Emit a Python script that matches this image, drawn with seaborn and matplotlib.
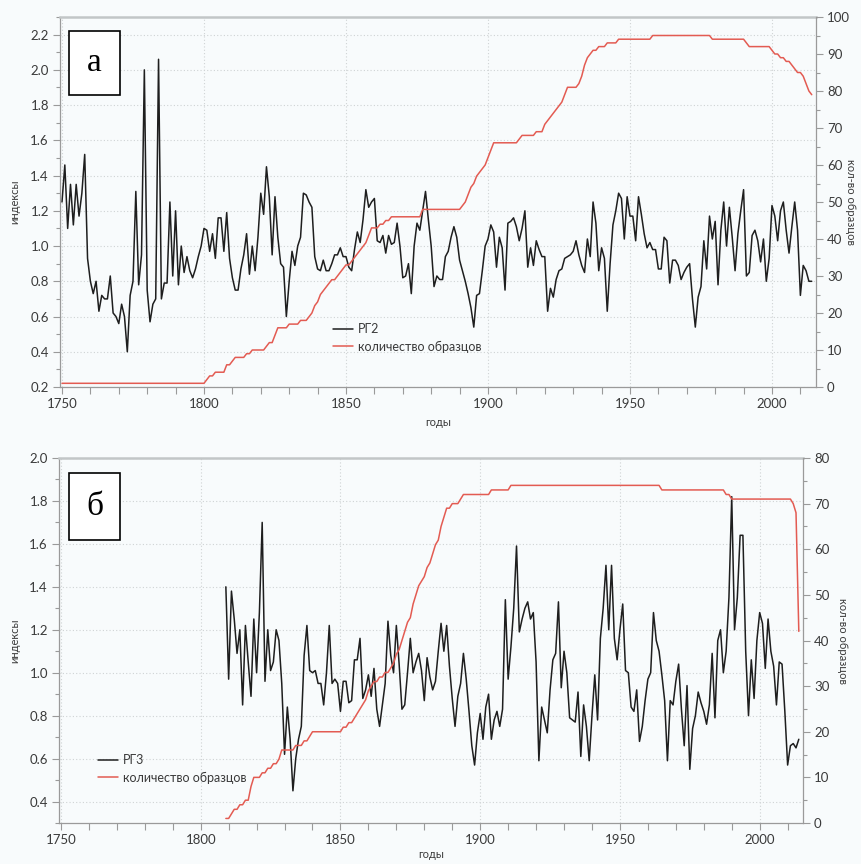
import numpy as np
import pandas as pd
import matplotlib
matplotlib.use("Agg")
import matplotlib.pyplot as plt
import seaborn as sns
from matplotlib.ticker import MultipleLocator, FixedLocator
from matplotlib.patches import Rectangle

# ---------------- data ----------------
years_a = list(range(1750, 2015))
index_a = [
    1.25, 1.46, 1.10, 1.35, 1.12, 1.35, 1.17, 1.30, 1.52, 0.93,
    0.80, 0.73, 0.80, 0.63, 0.72, 0.70, 0.70, 0.83, 0.62, 0.60,
    0.56, 0.67, 0.60, 0.40, 0.72, 0.80, 1.31, 0.78, 0.95, 2.00,
    0.75, 0.57, 0.67, 0.70, 2.06, 0.70, 0.79, 0.79, 1.25, 0.83,
    1.20, 0.78, 1.00, 0.85, 0.94, 0.86, 0.82, 0.87, 0.94, 1.00,
    1.10, 1.09, 0.97, 1.07, 0.93, 1.16, 1.16, 0.97, 1.19, 0.93,
    0.82, 0.75, 0.75, 0.87, 0.95, 1.07, 0.84, 1.00, 0.86, 1.05,
    1.30, 1.18, 1.45, 1.28, 0.95, 1.28, 1.05, 0.90, 0.88, 0.60,
    0.80, 0.97, 0.89, 1.00, 1.05, 1.30, 1.29, 1.25, 1.22, 0.94,
    0.87, 0.86, 0.92, 0.86, 0.86, 0.90, 0.95, 0.95, 0.99, 0.94,
    0.94, 0.88, 0.86, 0.98, 1.08, 1.02, 1.15, 1.32, 1.22, 1.25,
    1.27, 1.03, 1.02, 1.06, 0.96, 1.06, 1.01, 1.02, 1.13, 1.00,
    0.82, 0.83, 0.90, 0.73, 1.00, 1.13, 1.09, 1.20, 1.31, 1.15,
    1.00, 0.77, 0.83, 0.81, 0.81, 0.94, 0.97, 1.05, 1.11, 1.05,
    0.92, 0.86, 0.80, 0.73, 0.65, 0.54, 0.72, 0.73, 0.86, 1.00,
    1.04, 1.12, 1.08, 0.88, 1.05, 0.99, 0.75, 1.13, 1.14, 1.16,
    1.11, 1.03, 1.10, 1.20, 0.88, 0.99, 0.89, 1.03, 0.98, 0.94,
    0.94, 0.63, 0.76, 0.71, 0.81, 0.86, 0.87, 0.93, 0.94, 0.95,
    0.97, 1.03, 0.95, 0.89, 0.85, 1.04, 0.94, 1.25, 1.13, 0.86,
    0.99, 0.93, 0.63, 0.90, 1.12, 1.20, 1.30, 1.27, 1.04, 1.28,
    1.17, 1.17, 1.03, 1.28, 1.18, 1.07, 0.99, 1.02, 0.98, 0.98,
    0.87, 0.87, 1.05, 1.03, 0.79, 0.92, 0.92, 0.89, 0.81, 0.85,
    0.88, 0.90, 0.70, 0.54, 0.71, 0.77, 1.03, 0.87, 1.17, 1.04,
    1.14, 0.78, 1.09, 1.25, 1.00, 1.22, 1.05, 0.86, 1.07, 1.20,
    1.32, 0.83, 0.85, 1.06, 1.09, 1.03, 0.91, 1.04, 0.80, 0.93,
    1.23, 1.17, 1.03, 1.20, 1.25, 1.09, 0.96, 1.11, 1.25, 1.09,
    0.72, 0.89, 0.86, 0.80, 0.80,
]
count_a = (
    [1] * 50 +
    [1, 2, 3, 3, 4, 4, 4, 4, 6, 6] +
    [7, 8, 8, 8, 8, 9, 9, 10, 10, 10] +
    [10, 10, 11, 12, 12, 14, 16, 16, 16, 16] +
    [17, 17, 17, 17, 18, 18, 18, 19, 20, 22] +
    [23, 25, 26, 27, 28, 29, 29, 30, 31, 32] +
    [33, 33, 34, 35, 36, 37, 38, 39, 41, 43] +
    [43, 43, 44, 44, 45, 45, 46, 46, 46, 46] +
    [46, 46, 46, 46, 46, 46, 46, 48, 48, 48] +
    [48] * 10 +
    [48, 49, 50, 52, 54, 55, 57, 58, 59, 60] +
    [62, 64, 66, 66, 66, 66, 66, 66, 66, 66] +
    [66, 67, 68, 68, 68, 68, 68, 69, 69, 69] +
    [71, 72, 73, 74, 75, 76, 77, 79, 81, 81] +
    [81, 81, 82, 84, 87, 89, 90, 91, 91, 92] +
    [92, 92, 93, 93, 93, 93, 94, 94, 94, 94] +
    [94, 94, 94, 94, 94, 94, 94, 94, 95, 95] +
    [95] * 10 +
    [95, 95, 95, 95, 95, 95, 95, 95, 95, 94] +
    [94] * 10 +
    [94, 93, 92, 92, 92, 92, 92, 92, 92, 92] +
    [91, 90, 90, 89, 89, 88, 88, 87, 86, 85] +
    [85, 84, 82, 80, 79]
)

years_b = list(range(1809, 2015))
index_b = [
    1.40,
    0.97, 1.38, 1.25, 1.09, 1.20, 0.85, 1.22, 1.05, 0.89, 1.25,
    1.00, 1.28, 1.70, 0.96, 1.20, 1.01, 1.05, 1.20, 1.15, 0.95,
    0.62, 0.84, 0.69, 0.45, 0.60, 0.69, 0.75, 1.08, 1.22, 1.01,
    1.00, 1.01, 0.95, 0.95, 0.85, 1.00, 1.22, 0.95, 0.97, 0.95,
    0.82, 0.96, 0.96, 0.86, 0.87, 1.06, 1.06, 1.16, 0.88, 0.92,
    0.99, 0.89, 1.02, 0.83, 0.75, 0.85, 0.95, 1.24, 1.08, 1.00,
    1.22, 1.04, 0.83, 0.85, 1.00, 1.16, 1.00, 1.05, 1.09, 1.01,
    0.87, 1.07, 0.98, 0.92, 0.96, 1.10, 1.23, 1.10, 1.22, 1.03,
    0.88, 0.75, 0.89, 0.95, 1.09, 0.97, 0.82, 0.66, 0.57, 0.72,
    0.81, 0.69, 0.84, 0.90, 0.69, 0.78, 0.82, 0.75, 0.83, 1.34,
    0.97, 1.12, 1.30, 1.59, 1.19, 1.25, 1.30, 1.33, 1.25, 1.28,
    1.05, 0.59, 0.84, 0.78, 0.72, 0.92, 1.06, 1.09, 1.33, 0.93,
    1.10, 1.00, 0.79, 0.78, 0.77, 0.91, 0.61, 0.85, 0.75, 0.59,
    0.80, 0.99, 0.78, 1.16, 1.30, 1.50, 1.20, 1.50, 1.16, 1.06,
    1.20, 1.32, 1.01, 1.00, 0.84, 0.82, 0.92, 0.68, 0.75, 0.87,
    0.97, 1.00, 1.28, 1.15, 1.10, 0.99, 0.87, 0.59, 0.87, 0.85,
    0.96, 1.04, 0.83, 0.66, 0.94, 0.55, 0.74, 0.80, 0.91, 0.86,
    0.82, 0.76, 0.85, 1.09, 0.79, 1.15, 1.20, 1.00, 1.10, 1.35,
    1.82, 1.20, 1.35, 1.64, 1.64, 1.10, 0.80, 1.06, 0.88, 1.15,
    1.28, 1.23, 1.02, 1.25, 1.10, 1.03, 0.85, 1.05, 1.04, 0.82,
    0.57, 0.66, 0.67, 0.65, 0.69,
]
count_b = (
    [1] +
    [1, 2, 3, 3, 4, 4, 5, 5, 8, 10] +
    [10, 10, 11, 11, 12, 12, 13, 13, 14, 16] +
    [16, 16, 16, 16, 17, 17, 17, 18, 18, 19] +
    [20] * 10 +
    [20, 21, 21, 22, 22, 23, 24, 25, 26, 27] +
    [29, 30, 31, 31, 32, 32, 33, 33, 34, 35] +
    [37, 38, 40, 42, 44, 45, 48, 50, 52, 53] +
    [54, 56, 57, 59, 61, 62, 65, 67, 69, 69] +
    [70, 70, 70, 71, 72, 72, 72, 72, 72, 72] +
    [72, 72, 72, 72, 73, 73, 73, 73, 73, 73] +
    [73, 74, 74, 74, 74, 74, 74, 74, 74, 74] +
    [74] * 40 +
    [74, 74, 74, 74, 74, 73, 73, 73, 73, 73] +
    [73] * 10 +
    [73, 73, 73, 73, 73, 73, 73, 73, 72, 72] +
    [71] * 10 +
    [71] * 10 +
    [71, 71, 70, 68, 42]
)

label_a = "РГ2"
label_b = "РГ3"
label_count = "количество образцов"
xlabel = "годы"
ylabel_left = "индексы"
ylabel_right = "кол-во образцов"
panel_letters = ["а", "б"]

# ---------------- style ----------------
sns.set_theme(style="ticks")
plt.rcParams['font.family'] = ['Lato', 'DejaVu Sans']

BG = '#f8fbfc'
BLACK = '#1e1e1e'
RED = '#e35b52'
SPINE = '#9a9a9a'
TXT = '#3a3a3a'

W, H = 862, 864
fig = plt.figure(figsize=(W / 100, H / 100), dpi=100)
fig.patch.set_facecolor(BG)


def frac_rect(l, t, r, b):
    return [l / W, 1 - b / H, (r - l) / W, (b - t) / H]


def make_panel(rect, years, idx, cnt, lab, ylim_l, ylim_r, ymaj_r, ymin_r,
               yticks_l, leg_xy, letter_rect, letter, rlab_x, xlab_y):
    ax = fig.add_axes(frac_rect(*rect))
    ax.set_facecolor(BG)
    df = pd.DataFrame({"year": years, "idx": idx, "cnt": cnt})
    sns.lineplot(data=df, x="year", y="idx", ax=ax, color=BLACK, lw=1.1,
                 label=lab, legend=False)
    axr = ax.twinx()
    sns.lineplot(data=df, x="year", y="cnt", ax=axr, color=RED, lw=1.1,
                 label=label_count, legend=False)

    ax.set_xlim(1749.3, 2015.5)
    ax.set_ylim(*ylim_l)
    axr.set_ylim(*ylim_r)

    ax.xaxis.set_major_locator(MultipleLocator(50))
    ax.xaxis.set_minor_locator(MultipleLocator(10))
    ax.yaxis.set_major_locator(FixedLocator(yticks_l))
    ax.yaxis.set_minor_locator(MultipleLocator(0.1))
    ax.set_yticklabels([f"{v:.1f}" for v in yticks_l])
    axr.yaxis.set_major_locator(MultipleLocator(ymaj_r))
    axr.yaxis.set_minor_locator(MultipleLocator(ymin_r))

    ax.grid(True, which='major', ls=(0, (1, 2)), color='#cfd3d4', lw=0.8)
    for a in (ax, axr):
        a.tick_params(axis='both', which='major', direction='out', length=5,
                      width=0.8, color=SPINE, labelcolor=TXT, labelsize=9.5,
                      pad=3)
        a.tick_params(axis='both', which='minor', direction='out', length=3,
                      width=0.8, color=SPINE)
    ax.tick_params(axis='x', which='minor', length=5)

    for s in ('left', 'bottom'):
        ax.spines[s].set_color(SPINE)
        ax.spines[s].set_linewidth(0.9)
    ax.spines['right'].set_visible(False)
    ax.spines['top'].set_visible(True)
    ax.spines['top'].set_color('#c2c6c7')
    ax.spines['top'].set_linewidth(1.8)
    for s in ('left', 'bottom', 'top'):
        axr.spines[s].set_visible(False)
    axr.spines['right'].set_visible(True)
    axr.spines['right'].set_color(SPINE)
    axr.spines['right'].set_linewidth(0.9)

    l, t, r, b = rect
    ax.set_xlabel(xlabel, fontsize=8, color=TXT, va='center')
    ax.xaxis.set_label_coords(0.5, -((xlab_y - b) / (b - t)))
    ax.set_ylabel(ylabel_left, fontsize=8, color=TXT, va='center')
    ax.yaxis.set_label_coords(-((l - 15) / (r - l)), 0.5)
    axr.set_ylabel(ylabel_right, fontsize=8, color=TXT, rotation=270,
                   va='center')
    axr.yaxis.set_label_coords((rlab_x - l) / (r - l), 0.5)

    h1, l1 = ax.get_legend_handles_labels()
    h2, l2 = axr.get_legend_handles_labels()
    fig.legend(h1 + h2, l1 + l2, loc='upper left',
               bbox_to_anchor=(leg_xy[0] / W, 1 - leg_xy[1] / H),
               frameon=False, fontsize=9, handlelength=1.6,
               handletextpad=0.4, borderpad=0, borderaxespad=0,
               labelspacing=0.45, labelcolor=TXT)

    bl, bt, br, bb = letter_rect
    fig.add_artist(Rectangle((bl / W, 1 - bb / H), (br - bl) / W, (bb - bt) / H,
                             transform=fig.transFigure, fc='white',
                             ec='black', lw=1.2, zorder=5))
    fig.text((bl + br) / 2 / W, 1 - (bt + bb) / 2 / H, letter, ha='center',
             va='center', fontsize=24, family='Liberation Serif',
             color='black', zorder=6)
    return ax, axr


make_panel((60, 17, 816, 387), years_a, index_a, count_a, label_a,
           (0.2, 2.3), (0, 100), 10, 5,
           [0.2, 0.4, 0.6, 0.8, 1.0, 1.2, 1.4, 1.6, 1.8, 2.0, 2.2],
           (333, 323), (69, 31, 120, 95), panel_letters[0], 851, 422)

make_panel((59, 458, 803, 823), years_b, index_b, count_b, label_b,
           (0.3, 2.0), (0, 80), 10, 5,
           [0.4, 0.6, 0.8, 1.0, 1.2, 1.4, 1.6, 1.8, 2.0],
           (98, 754), (69, 473, 120, 540), panel_letters[1], 843, 854)

fig.savefig("out.png", dpi=100, facecolor=BG)
